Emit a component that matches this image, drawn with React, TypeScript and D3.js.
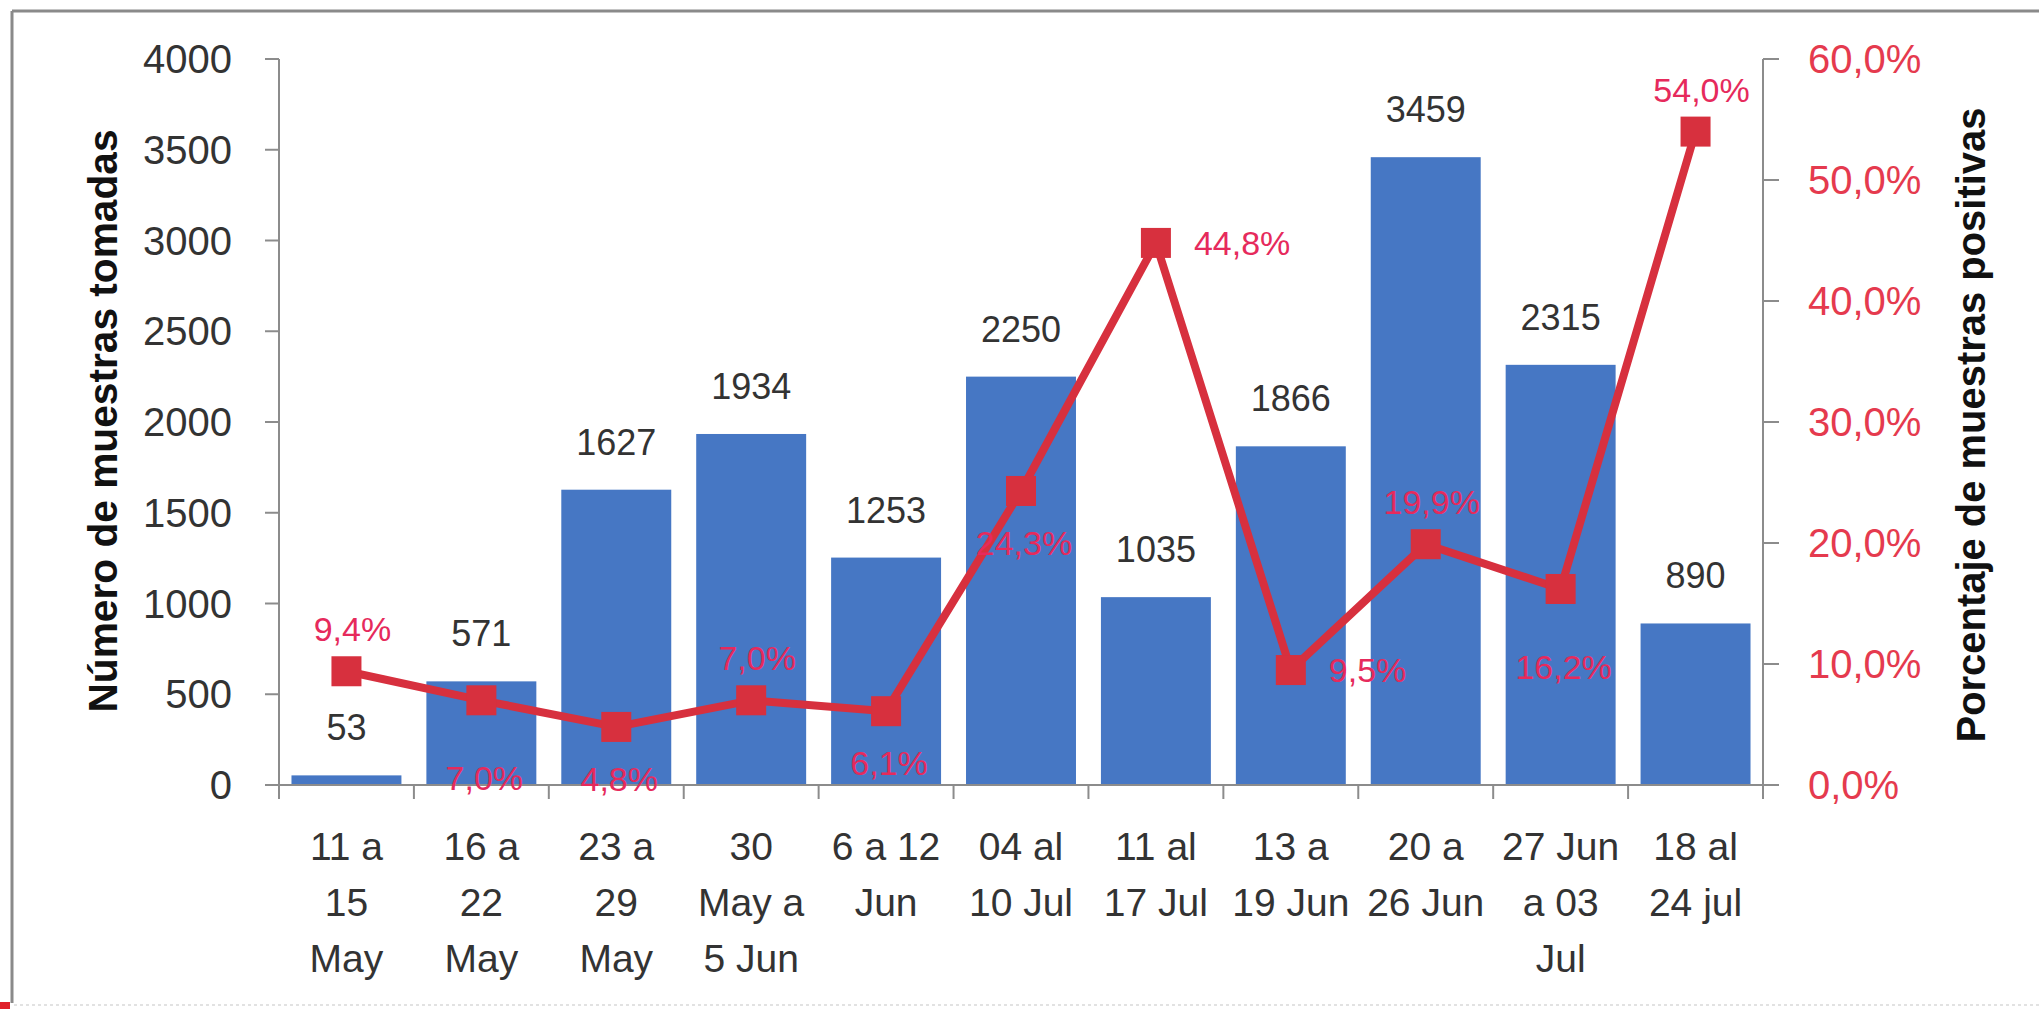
import React from 'react';
import * as d3 from 'd3';

// weekly periods (x axis), multi-line labels
const periods = [
  ['11 a', '15', 'May'],
  ['16 a', '22', 'May'],
  ['23 a', '29', 'May'],
  ['30', 'May a', '5 Jun'],
  ['6 a 12', 'Jun'],
  ['04 al', '10 Jul'],
  ['11 al', '17 Jul'],
  ['13 a', '19 Jun'],
  ['20 a', '26 Jun'],
  ['27 Jun', 'a 03', 'Jul'],
  ['18 al', '24 jul'],
];

// number of samples taken (bars)
const samples = [53, 571, 1627, 1934, 1253, 2250, 1035, 1866, 3459, 2315, 890];

// percentage of positive samples (line)
const positives = [9.4, 7.0, 4.8, 7.0, 6.1, 24.3, 44.8, 9.5, 19.9, 16.2, 54.0];

// where each percentage label sits around its marker
const pctLabelPlacement = ['above', 'belowFar', 'below', 'above', 'below', 'below', 'right', 'right', 'above', 'belowFar', 'above'];

const leftTicks = [0, 500, 1000, 1500, 2000, 2500, 3000, 3500, 4000];
const rightTicks = [0, 10, 20, 30, 40, 50, 60];

const W = 2039;
const H = 1009;
const left = 279;
const right = 1763;
const top = 59;
const bottom = 785;

const BAR = '#4677c4';
const LINE = '#d7303e';
const PCT_TEXT = '#e62a5c';
const AXIS = '#8c8c8c';
const TEXT = '#333333';
const FONT = '"Liberation Sans", Arial, sans-serif';

const fmtPct = (v: number) => v.toFixed(1).replace('.', ',') + '%';

export default function App() {
  const idx = periods.map((_, i) => String(i));

  const xStep = d3.scaleBand().domain(idx).range([left, right]).padding(0);
  const xBar = d3
    .scaleBand()
    .domain(idx)
    .range([left, right])
    .paddingInner(0.185)
    .paddingOuter(0.0925);
  const yLeft = d3.scaleLinear().domain([0, 4000]).range([bottom, top]);
  const yRight = d3.scaleLinear().domain([0, 60]).range([bottom, top]);

  const cx = (i: number) => xStep(String(i))! + xStep.bandwidth() / 2;

  const line = d3
    .line<number>()
    .x((_, i) => cx(i))
    .y(d => yRight(d));

  const marker = 30;

  const pctLabel = (v: number, i: number) => {
    const x = cx(i);
    const y = yRight(v);
    const place = pctLabelPlacement[i];
    if (place === 'above') return { x: x + 6, y: y - 30, anchor: 'middle' };
    if (place === 'below') return { x: x + 3, y: y + 64, anchor: 'middle' };
    if (place === 'belowFar') return { x: x + 3, y: y + 90, anchor: 'middle' };
    return { x: x + 38, y: y + 12, anchor: 'start' };
  };

  return (
    <svg
      width={W}
      height={H}
      style={{ position: 'absolute', left: 0, top: 0, background: '#fff' }}
      fontFamily={FONT}
    >
      {/* frame */}
      <line x1={12} y1={11} x2={W} y2={11} stroke="#8a8a8a" strokeWidth={3} />
      <line x1={12} y1={11} x2={12} y2={1003} stroke="#8a8a8a" strokeWidth={3} />
      <line x1={14} y1={1005} x2={W} y2={1005} stroke="#e2e2e2" strokeWidth={2} strokeDasharray="3 3" />
      <rect x={0} y={1002} width={10} height={7} fill="#e0202a" />

      {/* bars */}
      {samples.map((v, i) => (
        <rect
          key={'b' + i}
          x={xBar(String(i))}
          y={yLeft(v)}
          width={xBar.bandwidth()}
          height={bottom - yLeft(v)}
          fill={BAR}
        />
      ))}

      {/* bar value labels */}
      {samples.map((v, i) => (
        <text
          key={'bl' + i}
          x={cx(i)}
          y={yLeft(v) - 35}
          textAnchor="middle"
          fontSize={36}
          fill={TEXT}
        >
          {v}
        </text>
      ))}

      {/* axes */}
      <line x1={left} y1={top} x2={left} y2={bottom + 14} stroke={AXIS} strokeWidth={2} />
      <line x1={right} y1={top} x2={right} y2={bottom + 14} stroke={AXIS} strokeWidth={2} />
      <line x1={left - 14} y1={bottom} x2={right + 16} y2={bottom} stroke={AXIS} strokeWidth={2} />

      {leftTicks.map(t => (
        <g key={'lt' + t}>
          <line x1={left - 14} x2={left} y1={yLeft(t)} y2={yLeft(t)} stroke={AXIS} strokeWidth={2} />
          <text x={232} y={yLeft(t) + 14} textAnchor="end" fontSize={40} fill={TEXT}>
            {t}
          </text>
        </g>
      ))}

      {rightTicks.map(t => (
        <g key={'rt' + t}>
          <line x1={right} x2={right + 16} y1={yRight(t)} y2={yRight(t)} stroke={AXIS} strokeWidth={2} />
          <text x={1808} y={yRight(t) + 14} textAnchor="start" fontSize={40} fill="#e53a4e">
            {fmtPct(t)}
          </text>
        </g>
      ))}

      {d3.range(1, periods.length).map(i => (
        <line
          key={'xt' + i}
          x1={xStep(String(i))}
          x2={xStep(String(i))}
          y1={bottom}
          y2={bottom + 14}
          stroke={AXIS}
          strokeWidth={2}
        />
      ))}

      {/* category labels */}
      {periods.map((lines, i) => (
        <text key={'c' + i} x={cx(i)} textAnchor="middle" fontSize={39} fill={TEXT}>
          {lines.map((s, j) => (
            <tspan key={j} x={cx(i)} y={860 + j * 56}>
              {s}
            </tspan>
          ))}
        </text>
      ))}

      {/* positive percentage line */}
      <path d={line(positives) ?? ''} fill="none" stroke={LINE} strokeWidth={8} strokeLinejoin="round" />
      {positives.map((v, i) => (
        <rect
          key={'m' + i}
          x={cx(i) - marker / 2}
          y={yRight(v) - marker / 2}
          width={marker}
          height={marker}
          fill={LINE}
        />
      ))}
      {positives.map((v, i) => {
        const p = pctLabel(v, i);
        return (
          <text key={'pl' + i} x={p.x} y={p.y} textAnchor={p.anchor} fontSize={34} fill={PCT_TEXT}>
            {fmtPct(v)}
          </text>
        );
      })}

      {/* axis titles */}
      <text
        transform={`translate(117,421) rotate(-90)`}
        textAnchor="middle"
        fontSize={40}
        fontWeight="bold"
        fill="#111"
        textLength={583}
        lengthAdjust="spacingAndGlyphs"
      >
        Número de muestras tomadas
      </text>
      <text
        transform={`translate(1985,425) rotate(-90)`}
        textAnchor="middle"
        fontSize={40}
        fontWeight="bold"
        fill="#111"
        textLength={635}
        lengthAdjust="spacingAndGlyphs"
      >
        Porcentaje de muestras positivas
      </text>
    </svg>
  );
}
